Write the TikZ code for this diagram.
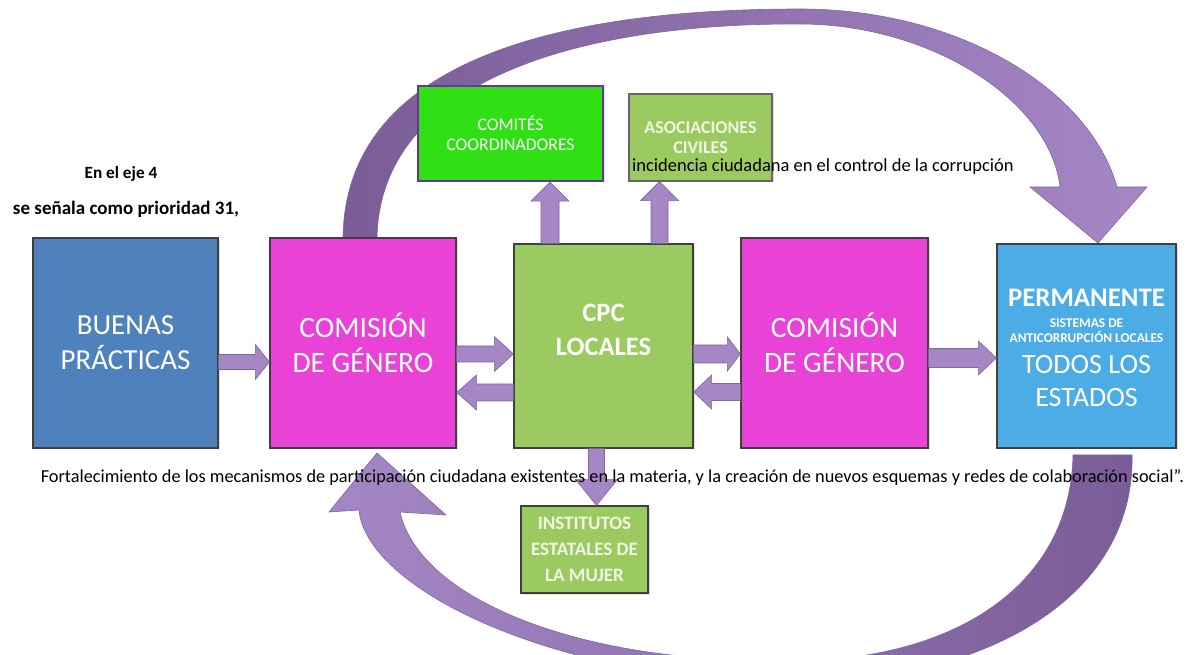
\documentclass[tikz,border=0pt]{standalone}
\usepackage{fontspec}
\setmainfont{Carlito}
\usetikzlibrary{calc,shadows}
\definecolor{bpblue}{HTML}{4F81BD}
\definecolor{mag}{HTML}{E843D6}
\definecolor{lgreen}{HTML}{9BCB60}
\definecolor{bgreen}{HTML}{30DF14}
\definecolor{pblue}{HTML}{4BACE6}
\definecolor{arrfill}{HTML}{A587C6}
\definecolor{arrline}{HTML}{7F67A0}
\definecolor{arcdark}{HTML}{7A5C97}
\definecolor{boxline}{HTML}{3F3F3F}
\definecolor{purpline}{HTML}{7030A0}
\definecolor{paletxt}{HTML}{EEF5E4}
\newcommand\RArr[6]{\draw[blk] let \p1=(#1),\p2=(#2) in (\x1,#3pt-#4pt) -- (\x2-#6pt,#3pt-#4pt) -- (\x2-#6pt,#3pt-#5pt) -- (\x2,#3pt) -- (\x2-#6pt,#3pt+#5pt) -- (\x2-#6pt,#3pt+#4pt) -- (\x1,#3pt+#4pt) -- cycle;}
\newcommand\LArr[6]{\draw[blk] let \p1=(#1),\p2=(#2) in (\x1,#3pt-#4pt) -- (\x2+#6pt,#3pt-#4pt) -- (\x2+#6pt,#3pt-#5pt) -- (\x2,#3pt) -- (\x2+#6pt,#3pt+#5pt) -- (\x2+#6pt,#3pt+#4pt) -- (\x1,#3pt+#4pt) -- cycle;}
\newcommand\UArr[6]{\draw[blk] let \p1=(#1),\p2=(#2) in (#3pt-#4pt,\y1) -- (#3pt-#4pt,\y2-#6pt) -- (#3pt-#5pt,\y2-#6pt) -- (#3pt,\y2) -- (#3pt+#5pt,\y2-#6pt) -- (#3pt+#4pt,\y2-#6pt) -- (#3pt+#4pt,\y1) -- cycle;}
\newcommand\DArr[6]{\draw[blk] let \p1=(#1),\p2=(#2) in (#3pt-#4pt,\y1) -- (#3pt-#4pt,\y2+#6pt) -- (#3pt-#5pt,\y2+#6pt) -- (#3pt,\y2) -- (#3pt+#5pt,\y2+#6pt) -- (#3pt+#4pt,\y2+#6pt) -- (#3pt+#4pt,\y1) -- cycle;}
\begin{document}
\begin{tikzpicture}[x=1pt,y=1pt,
  box/.style={draw=boxline, line width=1.2pt, inner sep=0pt, align=center,
    drop shadow={shadow xshift=1.5pt, shadow yshift=-1.5pt, opacity=0.25}},
  blk/.style={fill=arrfill, draw=arrline, line width=0.6pt, line join=miter},
  arc/.style={draw=arrline, line width=0.6pt},
  plain/.style={inner sep=0pt, text=black}]
\useasboundingbox (0,0) rectangle (1192,654);
\clip (0,0) rectangle (1192,654);
\fill[white] (0,0) rectangle (1192,654);
% top curved arrow
\path[arc, left color=arcdark, right color=arrfill]
  (343,416) .. controls (345,594) and (560,645) .. (800,645)
  .. controls (960,645) and (1090,564) .. (1117,467)
  -- (1147,467) -- (1098,411) -- (1030,467) -- (1060,467)
  .. controls (1050,554) and (930,630) .. (800,630)
  .. controls (580,631) and (380,574) .. (377,416) -- cycle;
% bottom curved arrow
\path[arc, left color=arrfill, right color=arcdark]
  (1073,199) .. controls (1070,54) and (930,-16) .. (760,-6)
  .. controls (580,-6) and (420,54) .. (400,142)
  -- (446,139) -- (377,201) -- (329,142) -- (359,144)
  .. controls (365,74) and (520,-16) .. (770,-31)
  .. controls (1000,-31) and (1135,64) .. (1132,199) -- cycle;
% boxes
\node[box, fill=bpblue, minimum width=185pt, minimum height=210pt, text=white,
  font=\fontsize{29}{35}\selectfont] (bp) at (125.5,311) {BUENAS\\PRÁCTICAS};
\node[box, fill=mag, minimum width=186pt, minimum height=210pt, text=white,
  font=\fontsize{29.5}{35}\selectfont] (cg1) at (363,311) {COMISIÓN\\DE GÉNERO};
\node[box, fill=lgreen, minimum width=179pt, minimum height=204pt] (cpc) at (603.5,308) {};
\node[box, fill=mag, minimum width=187pt, minimum height=210pt, text=white,
  font=\fontsize{29.5}{35}\selectfont] (cg2) at (834.5,311) {COMISIÓN\\DE GÉNERO};
\node[box, fill=pblue, minimum width=179pt, minimum height=204pt] (perm) at (1086.5,308) {};
\node[box, draw=purpline, line width=2.2pt, fill=bgreen, minimum width=185pt, minimum height=95pt,
  text=white, font=\fontsize{17.7}{20}\selectfont] (com) at (510.5,520.5) {COMITÉS\\COORDINADORES};
\node[box, fill=lgreen, draw=boxline!80, minimum width=143pt, minimum height=87pt,
  text=paletxt, font=\bfseries\fontsize{18}{20}\selectfont] (aso) at (700.5,516.5) {ASOCIACIONES\\CIVILES};
\node[box, fill=lgreen, minimum width=127pt, minimum height=87pt,
  text=paletxt, font=\bfseries\fontsize{19}{26}\selectfont] (inst) at (584.5,104.5) {INSTITUTOS\\ESTATALES DE\\LA MUJER};
% block arrows
\RArr{bp.east}{cg1.west}{292}{7.5}{17.5}{14}
\RArr{cg1.east}{cpc.west}{300}{8}{17.5}{19}
\LArr{cpc.west}{cg1.east}{261.5}{8.5}{17.5}{20}
\RArr{cpc.east}{cg2.west}{300}{9}{17}{13}
\LArr{cg2.west}{cpc.east}{262}{8.5}{17}{18}
\RArr{cg2.east}{perm.west}{296}{9.5}{17}{18}
\UArr{cpc.north}{com.south}{550}{9}{19}{19}
\UArr{cpc.north}{aso.south}{659.5}{8.5}{19}{19}
\DArr{cpc.south}{inst.north}{596.5}{8}{21}{26}
% box texts
\node[plain, text=white, align=center, font=\bfseries\fontsize{26.5}{34}\selectfont] (cpct) at (603.5,324) {CPC\\LOCALES};
\node[plain, text=white, font=\bfseries\fontsize{26.8}{30}\selectfont] (pt1) at (1086.5,356) {PERMANENTE};
\node[plain, text=white, align=center, font=\bfseries\fontsize{13.4}{15}\selectfont] (pt2) at (1086.5,323.5) {SISTEMAS DE\\ANTICORRUPCIÓN LOCALES};
\node[plain, text=white, align=center, font=\fontsize{28}{33}\selectfont] (pt3) at (1086.5,272.5) {TODOS LOS\\ESTADOS};
% free texts
\node[plain, font=\bfseries\fontsize{17.2}{20}\selectfont] (t1) at (121,480) {En el eje 4};
\node[plain, font=\bfseries\fontsize{19}{20}\selectfont] (t2) at (126,445) {se señala como prioridad 31,};
\node[plain, anchor=west, font=\fontsize{18.5}{20}\selectfont] (t3) at (632,487) {incidencia ciudadana en el control de la corrupción};
\node[plain, font=\fontsize{18.3}{20}\selectfont] (t4) at (612.5,176) {Fortalecimiento de los mecanismos de participación ciudadana existentes en la materia, y la creación de nuevos esquemas y redes de colaboración social”.};
\end{tikzpicture}
\end{document}
